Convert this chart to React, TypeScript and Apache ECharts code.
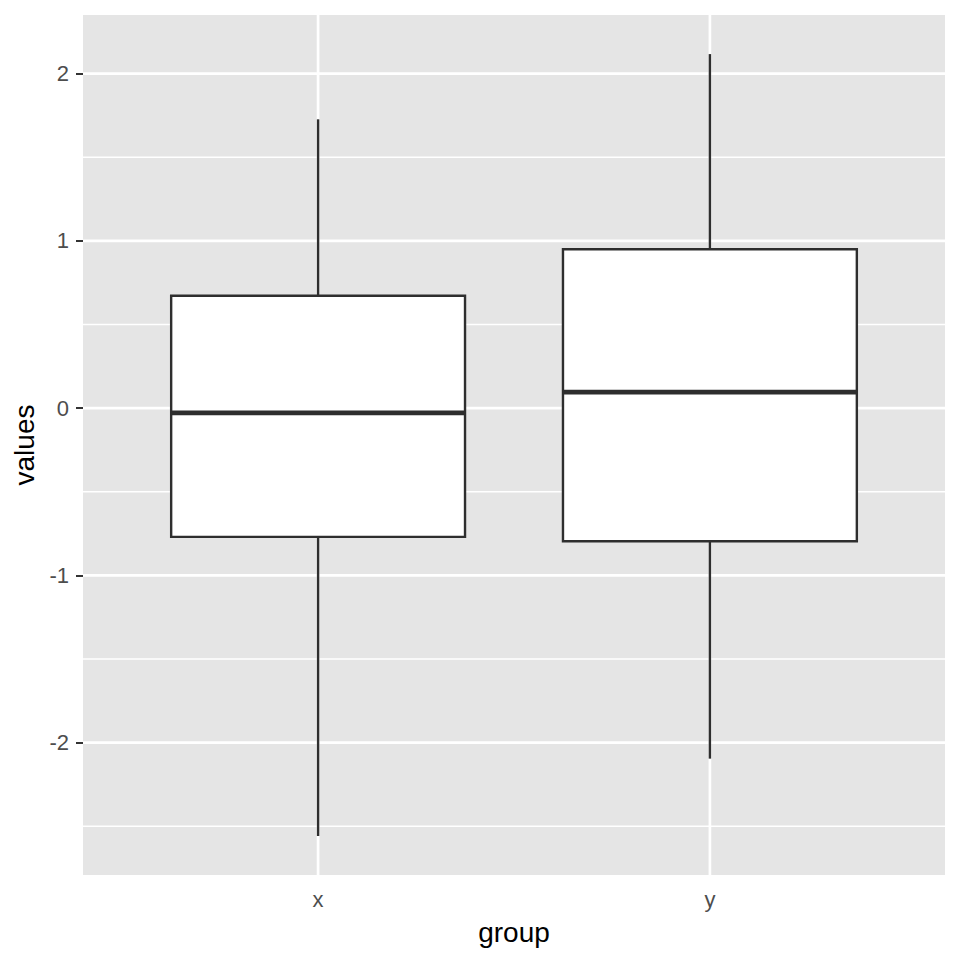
import React, { useEffect, useRef } from "react";
import * as echarts from "echarts";

// ---- data ----
const groups = ["x", "y"];
const groupPositions = [1, 2];
const lowerWhisker = [-2.558, -2.096];
const q1 = [-0.770, -0.796];
const median = [-0.028, 0.0955];
const q3 = [0.672, 0.950];
const upperWhisker = [1.727, 2.117];

const yMajorTicks = [-2, -1, 0, 1, 2];
const yMinorTicks = [-2.5, -1.5, -0.5, 0.5, 1.5];

const FONT = "'Liberation Sans', Arial, Helvetica, sans-serif";

export default function App() {
  const ref = useRef<HTMLDivElement>(null);

  useEffect(() => {
    if (!ref.current) return;
    const chart = echarts.init(ref.current, null, { renderer: "svg" });

    const lo = Math.min(...lowerWhisker);
    const hi = Math.max(...upperWhisker);
    const span = hi - lo;
    const yMin = lo - 0.05 * span;
    const yMax = hi + 0.05 * span;

    const boxData = groupPositions.map((p, i) => [
      p,
      lowerWhisker[i],
      q1[i],
      median[i],
      q3[i],
      upperWhisker[i],
    ]);

    const hLines = [
      ...yMajorTicks.map((v) => [1, v]),
      ...yMinorTicks.map((v) => [0, v]),
    ];
    const vLines = groupPositions.map((p) => [p, 0]);

    const edge = "#2E2E2E";

    chart.setOption({
      animation: false,
      backgroundColor: "#ffffff",
      grid: {
        left: 83,
        right: 15,
        top: 15,
        bottom: 85,
        show: true,
        backgroundColor: "#E5E5E5",
        borderWidth: 0,
      },
      xAxis: {
        type: "value",
        min: 0.4,
        max: 2.6,
        name: "group",
        nameLocation: "middle",
        nameGap: 43,
        nameTextStyle: { color: "#000000", fontSize: 28, fontFamily: FONT },
        axisLine: { show: false },
        splitLine: { show: false },
        axisTick: {
          show: true,
          customValues: groupPositions,
          length: 7,
          lineStyle: { color: "#333333", width: 2 },
        },
        axisLabel: {
          customValues: groupPositions,
          formatter: (v: number) => groups[Math.round(v) - 1] ?? "",
          color: "#4D4D4D",
          fontSize: 22,
          fontFamily: FONT,
          margin: 13,
        },
      },
      yAxis: {
        type: "value",
        min: yMin,
        max: yMax,
        name: "values",
        nameLocation: "middle",
        nameRotate: 90,
        nameGap: 41,
        nameTextStyle: { color: "#000000", fontSize: 28, fontFamily: FONT },
        axisLine: { show: false },
        splitLine: { show: false },
        axisTick: {
          show: true,
          customValues: yMajorTicks,
          length: 7,
          lineStyle: { color: "#333333", width: 2 },
        },
        axisLabel: {
          customValues: yMajorTicks,
          formatter: (v: number) => String(v),
          color: "#4D4D4D",
          fontSize: 22,
          fontFamily: FONT,
          margin: 14,
        },
      },
      series: [
        {
          type: "custom",
          name: "hgrid",
          z: 1,
          silent: true,
          clip: false,
          data: hLines,
          encode: { x: 0, y: 1 },
          renderItem: (params: any, api: any) => {
            const cs = params.coordSys;
            const y = api.coord([1.5, api.value(1)])[1];
            const major = api.value(0) === 1;
            return {
              type: "line",
              shape: { x1: cs.x, y1: y, x2: cs.x + cs.width, y2: y },
              style: { stroke: "#ffffff", lineWidth: major ? 2.7 : 1.35 },
              silent: true,
            };
          },
        },
        {
          type: "custom",
          name: "vgrid",
          z: 1,
          silent: true,
          clip: false,
          data: vLines,
          encode: { x: 0, y: 1 },
          renderItem: (params: any, api: any) => {
            const cs = params.coordSys;
            const x = api.coord([api.value(0), 0])[0];
            return {
              type: "line",
              shape: { x1: x, y1: cs.y, x2: x, y2: cs.y + cs.height },
              style: { stroke: "#ffffff", lineWidth: 2.7 },
              silent: true,
            };
          },
        },
        {
          type: "custom",
          name: "boxes",
          z: 3,
          data: boxData,
          encode: { x: 0, y: [1, 2, 3, 4, 5] },
          renderItem: (params: any, api: any) => {
            const xv = api.value(0);
            const pLow = api.coord([xv, api.value(1)]);
            const pQ1 = api.coord([xv, api.value(2)]);
            const pMed = api.coord([xv, api.value(3)]);
            const pQ3 = api.coord([xv, api.value(4)]);
            const pHigh = api.coord([xv, api.value(5)]);
            const halfW = api.size([0.75, 0])[0] / 2;
            const cx = pMed[0];
            return {
              type: "group",
              children: [
                {
                  type: "line",
                  shape: { x1: cx, y1: pHigh[1], x2: cx, y2: pQ3[1] },
                  style: { stroke: edge, lineWidth: 2.4 },
                },
                {
                  type: "line",
                  shape: { x1: cx, y1: pQ1[1], x2: cx, y2: pLow[1] },
                  style: { stroke: edge, lineWidth: 2.4 },
                },
                {
                  type: "rect",
                  shape: {
                    x: cx - halfW,
                    y: pQ3[1],
                    width: halfW * 2,
                    height: pQ1[1] - pQ3[1],
                  },
                  style: { fill: "#ffffff", stroke: edge, lineWidth: 2.4 },
                },
                {
                  type: "line",
                  shape: { x1: cx - halfW, y1: pMed[1], x2: cx + halfW, y2: pMed[1] },
                  style: { stroke: edge, lineWidth: 4.8 },
                },
              ],
            };
          },
        },
      ],
    });

    return () => {
      chart.dispose();
    };
  }, []);

  return (
    <div
      ref={ref}
      style={{ position: "fixed", left: 0, top: 0, width: 960, height: 960, background: "#ffffff" }}
    />
  );
}
